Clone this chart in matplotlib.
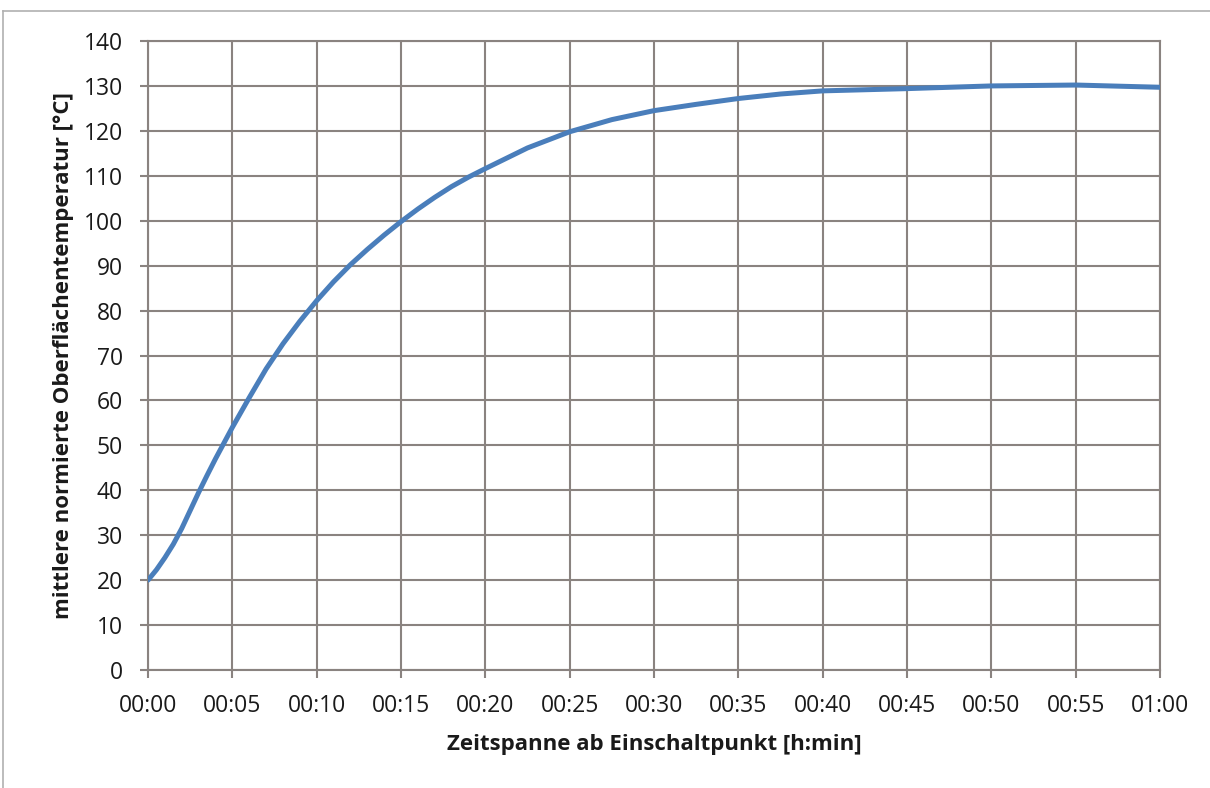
import matplotlib
matplotlib.use("Agg")
import matplotlib.pyplot as plt
from matplotlib.lines import Line2D

# time in minutes after switch-on, mean normalised surface temperature in degC
minutes = [0, 0.5, 1, 1.5, 2, 2.5, 3, 3.5, 4, 4.5, 5, 6, 7, 8, 9, 10, 11, 12, 13, 14, 15,
           16, 17, 18, 19, 20, 22.5, 25, 27.5, 30, 32.5, 35, 37.5, 40, 45, 50, 55, 60]
temperature = [20, 22.3, 25, 28, 31.5, 35.5, 39.5, 43.3, 47, 50.5, 54, 60.6, 67, 72.6,
               77.6, 82.2, 86.4, 90.2, 93.6, 96.8, 99.8, 102.6, 105.2, 107.6, 109.7,
               111.6, 116.2, 119.8, 122.5, 124.5, 125.9, 127.2, 128.2, 128.9, 129.4,
               130, 130.2, 129.7]

x_ticks = list(range(0, 61, 5))
x_labels = ["00:%02d" % m for m in x_ticks[:-1]] + ["01:00"]
y_ticks = list(range(0, 141, 10))

GRID = "#8a8380"
BLUE = "#4a7ebb"
TEXT = "#1a1a1a"

plt.rcParams['font.family'] = ['Open Sans', 'DejaVu Sans']

fig = plt.figure(figsize=(12.10, 7.88), dpi=100)
ax = fig.add_axes([148 / 1210, 1 - 670 / 788, (1160 - 148) / 1210, (670 - 41) / 788])

ax.plot(minutes, temperature, color=BLUE, linewidth=3.6, solid_capstyle="round",
        solid_joinstyle="round", zorder=3)

ax.set_xlim(0, 60)
ax.set_ylim(0, 140)
ax.set_xticks(x_ticks)
ax.set_xticklabels(x_labels)
ax.set_yticks(y_ticks)
ax.grid(True, color=GRID, linewidth=1.5)
ax.set_axisbelow(True)
for side in ax.spines.values():
    side.set_color(GRID)
    side.set_linewidth(1.5)
ax.tick_params(axis="both", colors=GRID, width=1.5, length=6, labelsize=16.5,
               labelcolor=TEXT)
ax.tick_params(axis="x", pad=11)
ax.tick_params(axis="y", pad=12)

ax.set_xlabel("Zeitspanne ab Einschaltpunkt [h:min]", fontsize=16, fontweight="bold",
              labelpad=12, color=TEXT)
ax.set_ylabel("mittlere normierte Oberflächentemperatur [°C]", fontsize=16,
              fontweight="bold", labelpad=7, color=TEXT)

# thin outer frame of the chart area
fig.add_artist(Line2D([3 / 1210, 1], [1 - 11 / 788, 1 - 11 / 788], color="#b0b0b0", linewidth=1.2))
fig.add_artist(Line2D([3 / 1210, 3 / 1210], [0, 1 - 11 / 788], color="#b0b0b0", linewidth=1.2))

fig.savefig("out.png", dpi=100)
